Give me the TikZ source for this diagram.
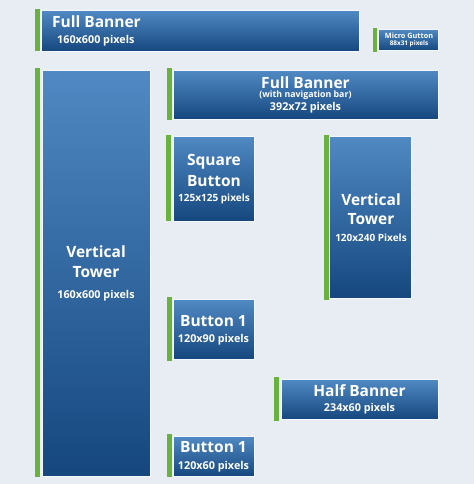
\documentclass[tikz,border=0pt]{standalone}
\usepackage{fontspec}
\setmainfont{Open Sans}
\definecolor{bg}{HTML}{E8ECF3}
\definecolor{boxtop}{HTML}{5089C3}
\definecolor{boxbot}{HTML}{15477E}
\definecolor{barg}{HTML}{6AB23E}
\definecolor{rim}{HTML}{F4F7FB}
\tikzset{
  adbox/.style={draw=rim, line width=0.9pt, top color=boxtop, bottom color=boxbot, inner sep=0pt, anchor=north west},
  gbar/.style={fill=barg, draw=none, inner sep=0pt, anchor=north west, minimum width=4.5pt},
  ttl/.style={text=white, inner sep=0pt, font=\bfseries\fontsize{15.5}{16}\selectfont},
  sub/.style={text=white, inner sep=0pt, font=\bfseries\fontsize{10.8}{12}\selectfont},
}
\begin{document}
\begin{tikzpicture}[x=1pt,y=-1pt]
\fill[bg] (0,0) rectangle (474,484);
\useasboundingbox (0,0) rectangle (474,484);
% top full banner
\node[gbar, minimum height=42pt] (g1) at (35,9) {};
\node[adbox, minimum width=318pt, minimum height=41pt] (b1) at (41,10) {};
\node[ttl, anchor=west] (t1) at (52,21.5) {Full Banner};
\node[sub, anchor=west] (s1) at (57,40.5) {160x600 pixels};
% micro gutton
\node[gbar, minimum height=24pt, minimum width=3.5pt] (g2) at (373,28) {};
\node[adbox, minimum width=60pt, minimum height=21pt] (b2) at (378,29) {};
\node[text=white, inner sep=0pt, font=\bfseries\fontsize{7.3}{8}\selectfont] (t2) at (409,35.7) {Micro Gutton};
\node[text=white, inner sep=0pt, font=\bfseries\fontsize{6.4}{7}\selectfont] (s2) at (409,44) {88x31 pixels};
% full banner nav
\node[gbar, minimum height=52pt] (g3) at (167,68) {};
\node[adbox, minimum width=265pt, minimum height=49pt] (b3) at (173,70) {};
\node[ttl] (t3) at (305.5,82.5) {Full Banner};
\node[text=white, inner sep=0pt, font=\bfseries\fontsize{8.8}{10}\selectfont] (n3) at (305.5,95.5) {(with navigation bar)};
\node[sub] (s3) at (305.5,108) {392x72 pixels};
% square button
\node[gbar, minimum height=86pt] (g4) at (166,135) {};
\node[adbox, minimum width=81pt, minimum height=85pt] (b4) at (173,136) {};
\node[ttl] (t4) at (214,162) {Square};
\node[ttl] (u4) at (214,181) {Button};
\node[sub, font=\bfseries\fontsize{10}{12}\selectfont] (s4) at (214,199) {125x125 pixels};
% vertical tower right
\node[gbar, minimum height=165pt] (g5) at (324,135) {};
\node[adbox, minimum width=82pt, minimum height=162pt] (b5) at (329,136) {};
\node[ttl] (t5) at (371,200) {Vertical};
\node[ttl] (u5) at (371,219) {Tower};
\node[sub, font=\bfseries\fontsize{10}{12}\selectfont] (s5) at (371,238) {120x240 Pixels};
% vertical tower left
\node[gbar, minimum height=409pt] (g6) at (35,68) {};
\node[adbox, minimum width=108pt, minimum height=406pt] (b6) at (42,70) {};
\node[ttl] (t6) at (96,252) {Vertical};
\node[ttl] (u6) at (96,272) {Tower};
\node[sub] (s6) at (96,296) {160x600 pixels};
% button 1 (120x90)
\node[gbar, minimum height=64pt] (g7) at (167,297) {};
\node[adbox, minimum width=81pt, minimum height=60pt] (b7) at (173,299) {};
\node[ttl] (t7) at (213.5,321) {Button 1};
\node[sub] (s7) at (213.5,340) {120x90 pixels};
% half banner
\node[gbar, minimum height=44pt] (g8) at (274,377) {};
\node[adbox, minimum width=157pt, minimum height=40pt] (b8) at (281,379) {};
\node[ttl] (t8) at (359.5,391) {Half Banner};
\node[sub] (s8) at (359.5,409) {234x60 pixels};
% button 1 (120x60)
\node[gbar, minimum height=43pt] (g9) at (167,434) {};
\node[adbox, minimum width=81pt, minimum height=40pt] (b9) at (173,436) {};
\node[ttl] (t9) at (213.5,447) {Button 1};
\node[sub] (s9) at (213.5,467) {120x60 pixels};
\end{tikzpicture}
\end{document}
